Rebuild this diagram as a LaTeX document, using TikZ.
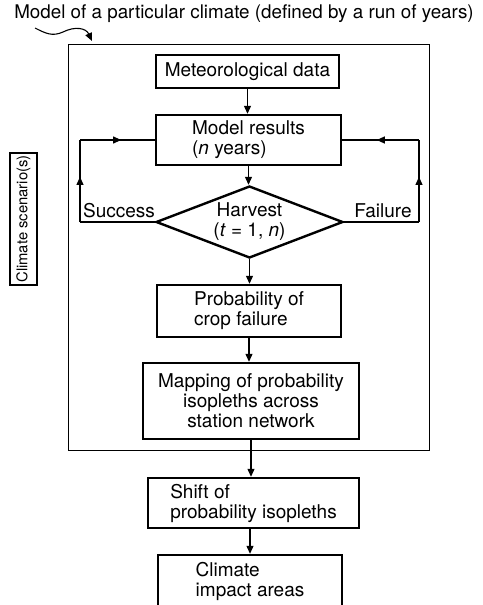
\documentclass[tikz,border=0pt]{standalone}
\usepackage{fontspec}
\setmainfont{TeX Gyre Heros}
\usetikzlibrary{arrows.meta,shapes.geometric,decorations.markings}
\begin{document}
\begin{tikzpicture}[x=1pt,y=-1pt,
  txt/.style={font=\fontsize{19}{20}\selectfont},
  box/.style={draw, line width=2.4pt, inner sep=0pt, txt},
  thinline/.style={line width=1.1pt},
  frameline/.style={line width=0.8pt},
  tip/.style={-{Triangle[length=8pt,width=7pt]}},
  midarrow/.style={postaction={decorate}, decoration={markings, mark=at position 0.55 with {\arrow{Triangle[length=8pt,width=7pt]}}}}]
\clip (0,0) rectangle (482,605);
\fill[white] (0,0) rectangle (482,605);
% title and pointer
\node[font=\fontsize{18.8}{20}\selectfont, anchor=base, inner sep=0pt] (title) at (244,18) {Model of a particular climate (defined by a run of years)};
\coordinate (sq0) at (35,28);
\coordinate (sq1) at (92,41);
\draw[thinline, tip] (sq0) .. controls (45,33) and (52,37) .. (63,32) .. controls (75,26) and (86,28) .. (sq1);
% outer frame
\node[draw, frameline, minimum width=361pt, minimum height=406pt] (outer) at (248.5,247) {};
% boxes
\node[box, minimum width=183pt, minimum height=33pt] (met) at (247.5,71.5) {Meteorological data};
\node[box, align=left, minimum width=185pt, minimum height=50pt] (model) at (248.5,140) {Model results\\(\textit{n} years)};
\node[draw, line width=2.4pt, shape=diamond, aspect=2.6, inner sep=0pt, minimum width=187pt, minimum height=72pt, align=center, txt] (harv) at (249.5,222) {Harvest\\(\textit{t} = 1, \textit{n})};
\node[box, align=left, minimum width=184pt, minimum height=52pt] (prob) at (249,311) {Probability of\\crop failure};
\node[box, align=center, minimum width=216pt, minimum height=76pt] (map) at (251,401) {Mapping of probability\\isopleths across\\station network};
\node[box, align=left, minimum width=211pt, minimum height=50pt] (shift) at (253.5,503) {Shift of\\probability isopleths};
\node[box, align=left, minimum width=184pt, minimum height=53pt] (clim) at (250,581.5) {Climate\\impact areas};
\node[box, rotate=90, minimum width=132pt, minimum height=27pt, font=\fontsize{14.8}{16}\selectfont] (scen) at (23.5,219) {Climate scenario(s)};
% labels
\node[txt] (succ) at (119,211) {Success};
\node[txt] (fail) at (383,211) {Failure};
% loops
\coordinate (lb) at (80,222);
\coordinate (lt) at (80,140);
\coordinate (rb) at (419,222);
\coordinate (rt) at (419,140);
\draw[thinline] (harv.west) -- (lb);
\draw[thinline, midarrow] (lb) -- (lt);
\draw[thinline, midarrow] (lt) -- (model.west);
\draw[thinline] (harv.east) -- (rb);
\draw[thinline, midarrow] (rb) -- (rt);
\draw[thinline, midarrow] (rt) -- (model.east);
% down arrows
\draw[thinline, tip] (met.south) -- (met.south |- model.north);
\draw[thinline, tip] (model.south) -- (model.south |- harv.north);
\draw[thinline, tip] (harv.south) -- (harv.south |- prob.north);
\draw[thinline, tip] (prob.south) -- (prob.south |- map.north);
\draw[thinline, tip] (map.south) -- (map.south |- shift.north);
\draw[thinline, tip] (shift.south -| clim.north) -- (clim.north);
\end{tikzpicture}
\end{document}
